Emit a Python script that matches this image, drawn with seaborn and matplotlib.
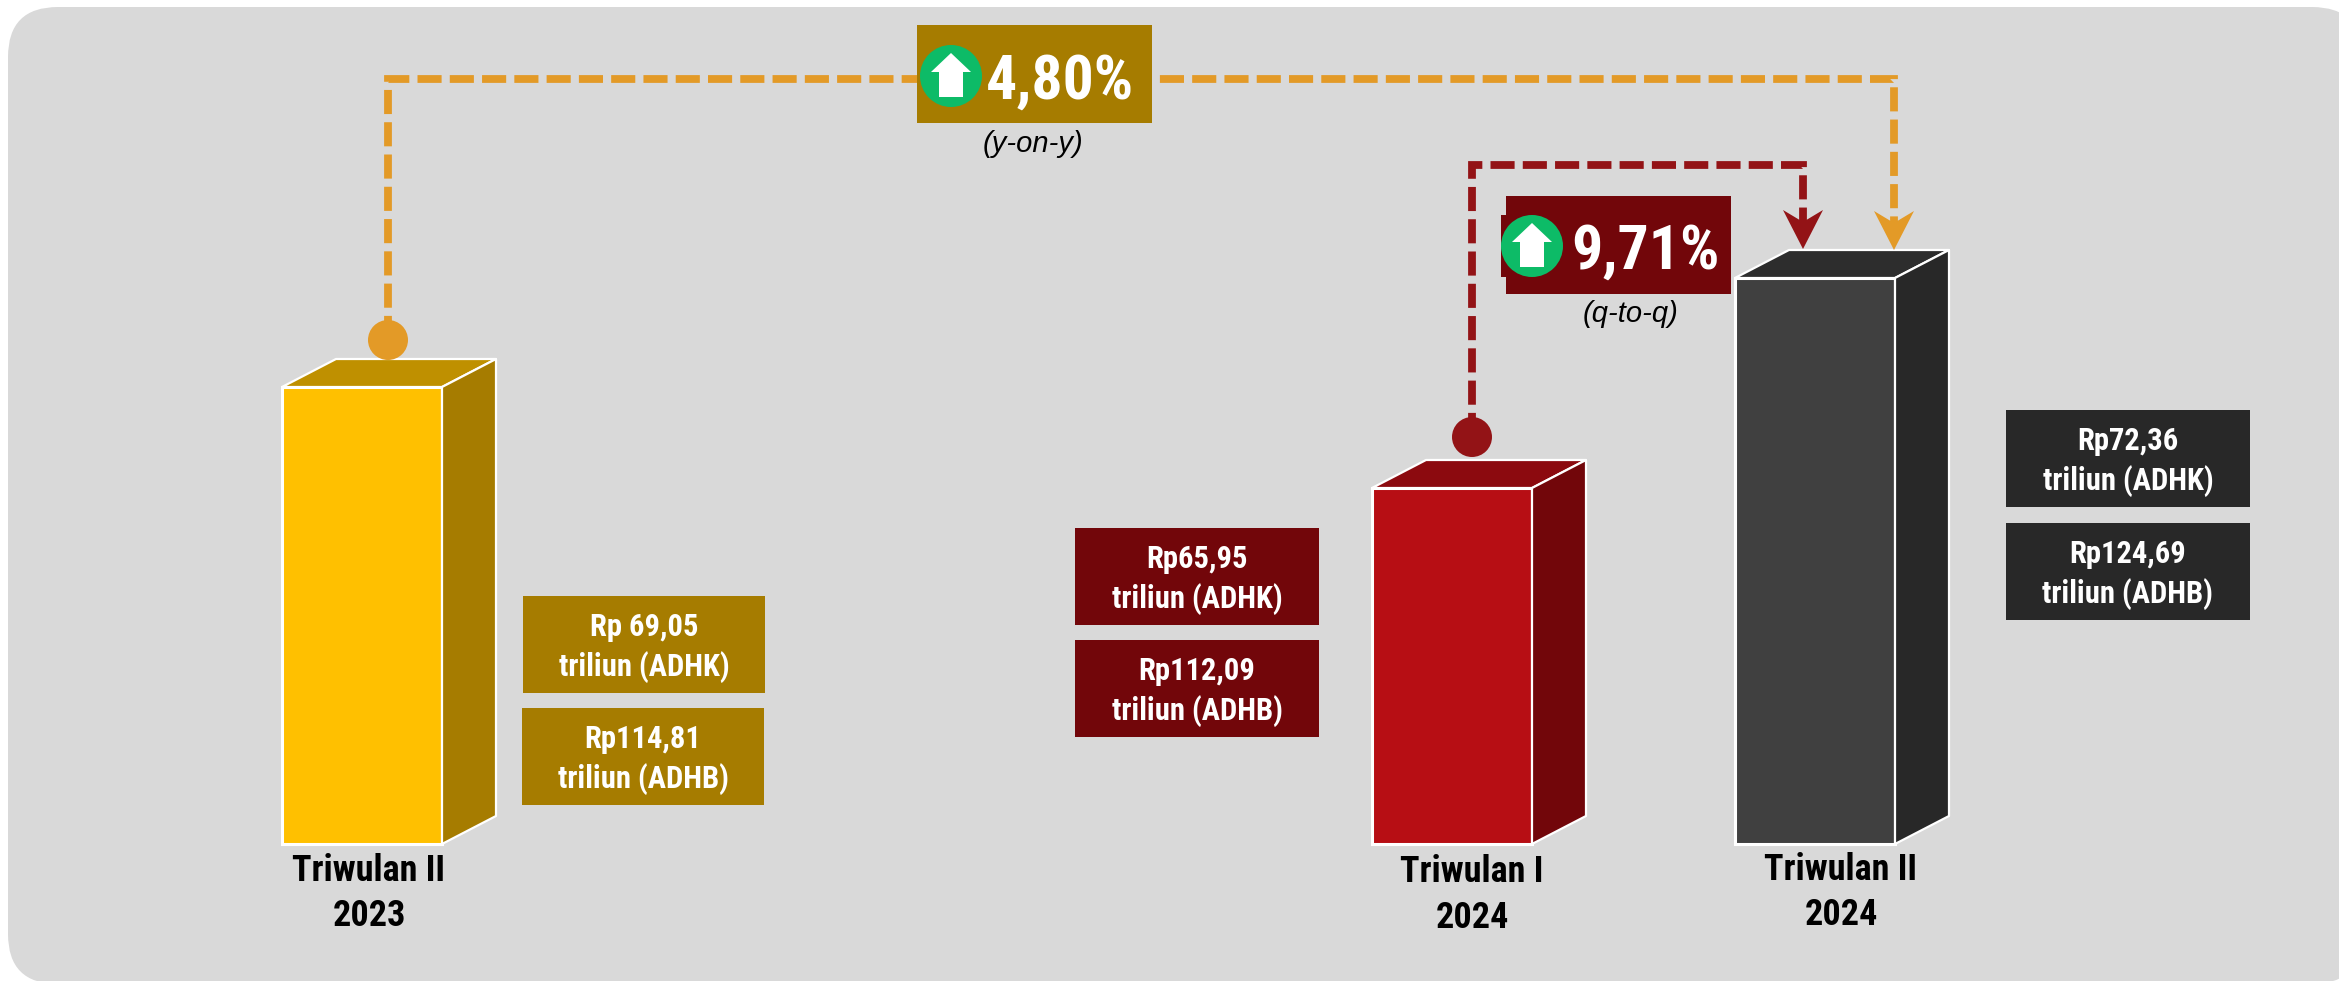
import matplotlib
matplotlib.use('Agg')
import matplotlib.pyplot as plt
from matplotlib.patches import FancyBboxPatch, Polygon, Rectangle, Circle
import pandas as pd
import seaborn as sns

# picture size in px, everything below is placed in these px
W, H = 2339, 981
BASE_Y = 844

categories = ['Triwulan II\n2023', 'Triwulan I\n2024', 'Triwulan II\n2024']
# the bars are pictorial, heights read off the picture (px) and not scaled to the values
bar_heights = [457, 356, 566]
bar_centers = [362, 1452, 1815]
adhk_values = ['Rp 69,05', 'Rp65,95', 'Rp72,36']
adhb_values = ['Rp114,81', 'Rp112,09', 'Rp124,69']
growth_labels = ['4,80%', '9,71%']
growth_notes = ['(y-on-y)', '(q-to-q)']

front_colors = ['#FFC000', '#B70E14', '#404040']
top_colors = ['#BF9000', '#8C0A0F', '#2D2D2D']
side_colors = ['#A67C00', '#72060A', '#282828']
box_colors = ['#A67C00', '#72060A', '#282828']
ORANGE = '#E39A27'
DARKRED = '#931316'
GREEN = '#0DBB67'

sns.set_theme(style='white')
plt.rcParams['font.family'] = ['Roboto Condensed', 'Liberation Sans']

fig = plt.figure(figsize=(W / 100, H / 100), dpi=100, facecolor='white')


def pixel_axes(z):
    a = fig.add_axes([0, 0, 1, 1], zorder=z)
    a.set_xlim(0, W)
    a.set_ylim(H, 0)
    a.axis('off')
    a.patch.set_alpha(0)
    return a


back = pixel_axes(0)
# the panel runs a little past the right and bottom edge of the picture
back.add_patch(FancyBboxPatch((58, 57), 2362 - 8 - 100, 984 - 7 - 100,
                              boxstyle='round,pad=50,rounding_size=50', fc='#D9D9D9', ec='none'))

# bars, zero sits on the baseline of the picture
bar_ax = fig.add_axes([0, 0, 1, 1], zorder=1)
df = pd.DataFrame({'x': bar_centers, 'h': bar_heights, 'cat': categories})
sns.barplot(data=df, x='x', y='h', hue='cat', palette=front_colors, native_scale=True,
            width=160 / (bar_centers[2] - bar_centers[1]), dodge=False, legend=False,
            saturation=1, edgecolor='white', linewidth=2.2, ax=bar_ax)
bar_ax.set_xlim(0, W)
bar_ax.set_ylim(BASE_Y - H, BASE_Y)
bar_ax.axis('off')
bar_ax.patch.set_alpha(0)

over = pixel_axes(2)

DX, DY = 54, 28
bars = sorted(bar_ax.patches, key=lambda p: p.get_x())
for bar, top_c, side_c in zip(bars, top_colors, side_colors):
    x0 = bar.get_x()
    x1 = x0 + bar.get_width()
    y0 = BASE_Y - bar.get_height()
    over.add_patch(Polygon([(x0, y0), (x0 + DX, y0 - DY), (x1 + DX, y0 - DY), (x1, y0)],
                           fc=top_c, ec='white', lw=1.6, joinstyle='round'))
    over.add_patch(Polygon([(x1, y0), (x1 + DX, y0 - DY), (x1 + DX, BASE_Y - DY), (x1, BASE_Y)],
                           fc=side_c, ec='white', lw=1.6, joinstyle='round'))


def dashed_link(xs, ys, color, tip_y):
    over.plot(xs, ys, color=color, lw=5.6, dashes=(3.1, 1.05), dash_capstyle='butt',
              dash_joinstyle='miter', zorder=3)
    over.add_patch(Circle((xs[0], ys[0]), 20, fc=color, ec='none', zorder=4))
    x = xs[-1]
    over.add_patch(Polygon([(x, tip_y), (x - 20, tip_y - 39), (x, tip_y - 27), (x + 20, tip_y - 39)],
                           fc=color, ec='none', zorder=4))


dashed_link([388, 388, 1894, 1894], [340, 79, 79, 236], ORANGE, 250)
dashed_link([1472, 1472, 1803, 1803], [437, 165, 165, 236], DARKRED, 249)


def growth_badge(x0, x1, y0, y1, cx, cy, label, label_x, color, note, note_x, note_y):
    over.add_patch(Rectangle((x0, y0), x1 - x0, y1 - y0, fc=color, ec='none', zorder=5))
    over.add_patch(Rectangle((cx - 31, cy - 31), 6, 62, fc=color, ec='none', zorder=5))
    over.add_patch(Circle((cx, cy), 31, fc=GREEN, ec='none', zorder=6))
    arrow = [(cx, cy - 23), (cx + 20, cy - 4), (cx + 12, cy - 4), (cx + 12, cy + 21),
             (cx - 12, cy + 21), (cx - 12, cy - 4), (cx - 20, cy - 4)]
    over.add_patch(Polygon(arrow, fc='white', ec='none', zorder=7))
    over.text(label_x, cy, label, color='white', fontsize=44.5, fontweight='bold',
              ha='center', va='center_baseline', zorder=8)
    over.text(note_x, note_y, note, color='black', fontsize=21, fontstyle='italic',
              family='Liberation Sans', ha='center', va='center', zorder=8)


growth_badge(917, 1152, 25, 123, 951, 76, growth_labels[0], 1060, side_colors[0],
             growth_notes[0], 1033, 144)
growth_badge(1506, 1731, 196, 294, 1532, 246, growth_labels[1], 1645, side_colors[1],
             growth_notes[1], 1631, 314)


def value_box(x0, x1, y0, y1, first, second, color):
    over.add_patch(Rectangle((x0, y0), x1 - x0, y1 - y0, fc=color, ec='none', zorder=5))
    xc = (x0 + x1) / 2
    over.text(xc, y0 + (y1 - y0) * 0.32, first, color='white', fontsize=22, fontweight='bold',
              ha='center', va='center', zorder=6)
    over.text(xc, y0 + (y1 - y0) * 0.73, second, color='white', fontsize=22, fontweight='bold',
              ha='center', va='center', zorder=6)


box_spots = [(523, 765, 596, 693, 522, 764, 708, 805),
             (1075, 1319, 528, 625, 1075, 1319, 640, 737),
             (2006, 2250, 410, 507, 2006, 2250, 523, 620)]
for i, s in enumerate(box_spots):
    value_box(s[0], s[1], s[2], s[3], adhk_values[i], 'triliun (ADHK)', box_colors[i])
    value_box(s[4], s[5], s[6], s[7], adhb_values[i], 'triliun (ADHB)', box_colors[i])

label_spots = [(369, 871, 916), (1472, 872, 918), (1841, 870, 915)]
for cat, (x, y1, y2) in zip(categories, label_spots):
    first, second = cat.split('\n')
    over.text(x, y1, first, color='black', fontsize=26, fontweight='bold', ha='center', va='center')
    over.text(x, y2, second, color='black', fontsize=26, fontweight='bold', ha='center', va='center')

fig.savefig('out.png', dpi=100)
